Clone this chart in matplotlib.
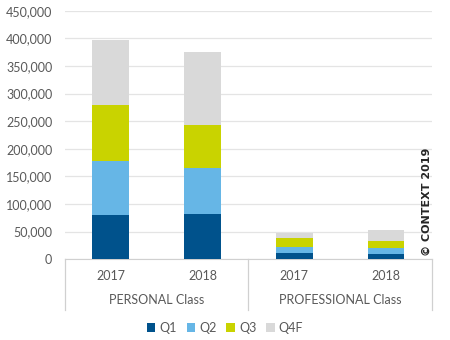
import numpy as np
import matplotlib.pyplot as plt
from matplotlib.ticker import FuncFormatter
import matplotlib.transforms as mtransforms

plt.rcParams['font.family'] = ['Lato', 'DejaVu Sans']

groups = ["PERSONAL Class", "PROFESSIONAL Class"]
years = ["2017", "2018", "2017", "2018"]
series = ["Q1", "Q2", "Q3", "Q4F"]
q1 = [80000, 82000, 11500, 9600]
q2 = [98000, 83000, 10500, 11000]
q3 = [102000, 79000, 16000, 12500]
q4 = [118000, 132000, 10000, 20000]
colors = ["#00528C", "#66B6E6", "#C9D300", "#D9D9D9"]

fig = plt.figure(figsize=(4.5, 3.4), dpi=100)
ax = fig.add_axes([0.144, 0.238, 0.816, 0.73])

x = np.arange(len(years))
bottom = np.zeros(len(years))
for name, vals, c in zip(series, [q1, q2, q3, q4], colors):
    ax.bar(x, vals, width=0.4, bottom=bottom, color=c, label=name, zorder=3)
    bottom += np.array(vals)

ax.set_xlim(-0.5, len(years) - 0.5)
ax.set_ylim(0, 450000)
ax.set_yticks(np.arange(0, 450001, 50000))
ax.yaxis.set_major_formatter(FuncFormatter(lambda v, p: f"{int(v):,}"))
ax.grid(axis='y', color='#E4E4E4', linewidth=0.9, zorder=0)
for s in ['top', 'right', 'left']:
    ax.spines[s].set_visible(False)
ax.spines['bottom'].set_color('#D0D0D0')
ax.tick_params(axis='y', length=0, labelsize=9, labelcolor='#595959', pad=9)
ax.set_xticks(x)
ax.set_xticklabels(years)
ax.tick_params(axis='x', length=0, labelsize=9, labelcolor='#595959', pad=8)

# category grouping
trans = mtransforms.blended_transform_factory(ax.transData, ax.transAxes)
for i, g in enumerate(groups):
    ax.text(2 * i + 0.5, -0.165, g, transform=trans, ha='center', va='center',
            fontsize=9, color='#595959')
for xs in [-0.5, 1.5, 3.5]:
    ax.plot([xs, xs], [0, -0.205], transform=trans, color='#D0D0D0',
            linewidth=0.9, clip_on=False)

fig.text(0.948, 0.405, "\u00a9 CONTEXT 2019", rotation=90, ha='center', va='center',
         fontsize=8, fontweight='bold', color='#262626', family=['DejaVu Sans'])

fig.legend(loc='lower center', bbox_to_anchor=(0.5, -0.015), ncol=4, frameon=False,
           fontsize=9, handlelength=0.7, handleheight=0.7, handletextpad=0.3,
           columnspacing=0.8, labelcolor='#595959')

fig.savefig("out.png", dpi=100)
